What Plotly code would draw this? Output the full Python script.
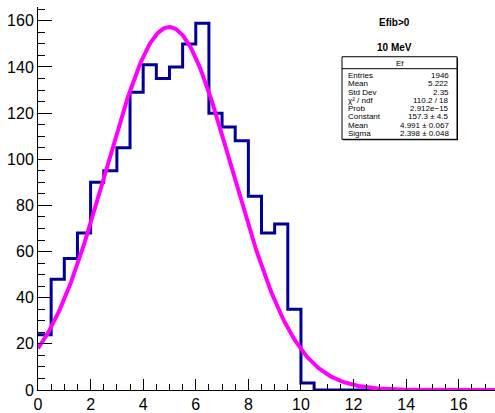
import numpy as np
import plotly.graph_objects as go

# Histogram "Ef": 0.5-wide bins from 0 to 17.5
bin_width = 0.5
counts = [24, 48, 57, 68, 90, 95, 105, 129, 141, 135, 140, 150, 159, 120,
          114, 108, 84, 68, 72, 35, 3, 0, 0, 0, 0, 0, 0, 0, 0, 0, 0, 0, 0, 0, 0]

# Gaussian fit results
fit_constant = 157.3
fit_mean = 4.991
fit_sigma = 2.398

stats_title = "Ef"
stats_labels = ["Entries", "Mean", "Std Dev", "χ\u00b2 / ndf", "Prob",
                "Constant", "Mean", "Sigma"]
stats_values = ["1946", "5.222", "2.35", "110.2 / 18", "2.912e\u221215",
                "157.3 \u00b1 4.5", "4.991 \u00b1 0.067", "2.398 \u00b1 0.048"]

W, H = 495, 413
ML, MR, MT, MB = 38, 0, 7, 21
X_MAX = 17.38
Y_MAX = 166

edges = [i * bin_width for i in range(len(counts) + 1)]
hx = edges
hy = counts + [counts[-1]]

fx = np.linspace(0, X_MAX, 400)
fy = fit_constant * np.exp(-0.5 * ((fx - fit_mean) / fit_sigma) ** 2)

fig = go.Figure()
fig.add_trace(go.Scatter(x=hx, y=hy, mode="lines", line=dict(shape="hv", color="#000099", width=3),
                         hoverinfo="skip"))
fig.add_trace(go.Scatter(x=fx, y=fy, mode="lines", line=dict(color="#ff00ff", width=4),
                         hoverinfo="skip"))


def px(xp):
    return (xp - ML) / (W - ML - MR)


def py(yp):
    return 1 - (yp - MT) / (H - MT - MB)


FONT = "Liberation Sans, Arial"
shapes = []
annotations = []

# stats box with shadow
bx0, bx1, by0, by1 = 342, 457, 57, 140
shapes.append(dict(type="rect", xref="paper", yref="paper", x0=px(bx0 + 1), x1=px(bx1 + 1),
                    y0=py(by1 + 1), y1=py(by0 + 1), line=dict(width=0), fillcolor="black", layer="above"))
shapes.append(dict(type="rect", xref="paper", yref="paper", x0=px(bx0), x1=px(bx1),
                    y0=py(by1), y1=py(by0), line=dict(color="black", width=1), fillcolor="white", layer="above"))
shapes.append(dict(type="line", xref="paper", yref="paper", x0=px(bx0), x1=px(bx1),
                    y0=py(69), y1=py(69), line=dict(color="black", width=1), layer="above"))
annotations.append(dict(text=stats_title, xref="paper", yref="paper", x=px((bx0 + bx1) / 2), y=py(63.5),
                        showarrow=False, font=dict(size=8, family=FONT, color="black"),
                        xanchor="center", yanchor="middle"))
row_y = [76, 84.3, 92.6, 100.9, 109.2, 117.5, 125.8, 134.1]
for lab, val, yy in zip(stats_labels, stats_values, row_y):
    annotations.append(dict(text=lab, xref="paper", yref="paper", x=px(346), y=py(yy), showarrow=False,
                            font=dict(size=8, family=FONT, color="black"),
                            xanchor="left", yanchor="middle"))
    annotations.append(dict(text=val, xref="paper", yref="paper", x=px(451), y=py(yy), showarrow=False,
                            font=dict(size=8, family=FONT, color="black"),
                            xanchor="right", yanchor="middle"))

annotations.append(dict(text="<b>Efib>0</b>", xref="paper", yref="paper", x=px(394), y=py(23),
                        showarrow=False, font=dict(size=10, family=FONT, color="black"),
                        xanchor="center", yanchor="middle"))
annotations.append(dict(text="<b>10 MeV</b>", xref="paper", yref="paper", x=px(394), y=py(48),
                        showarrow=False, font=dict(size=10, family=FONT, color="black"),
                        xanchor="center", yanchor="middle"))

fig.update_layout(
    width=W, height=H,
    margin=dict(l=ML, r=MR, t=MT, b=MB, pad=0),
    paper_bgcolor="white", plot_bgcolor="white",
    showlegend=False,
    shapes=shapes, annotations=annotations,
    font=dict(family=FONT, color="black"),
    xaxis=dict(range=[0, X_MAX], showgrid=False, zeroline=False, showline=True, linecolor="black",
               linewidth=1, ticks="inside", ticklen=11, tickcolor="black", dtick=2, tick0=0,
               tickfont=dict(size=16, color="black"),
               minor=dict(ticks="inside", ticklen=6, dtick=0.5, tickcolor="black", showgrid=False)),
    yaxis=dict(range=[0, Y_MAX], showgrid=False, zeroline=False, showline=True, linecolor="black",
               linewidth=1, ticks="inside", ticklen=14, tickcolor="black", dtick=20, tick0=0,
               tickfont=dict(size=16, color="black"),
               minor=dict(ticks="inside", ticklen=7, dtick=5, tickcolor="black", showgrid=False)),
)

fig.write_html("out.html")
